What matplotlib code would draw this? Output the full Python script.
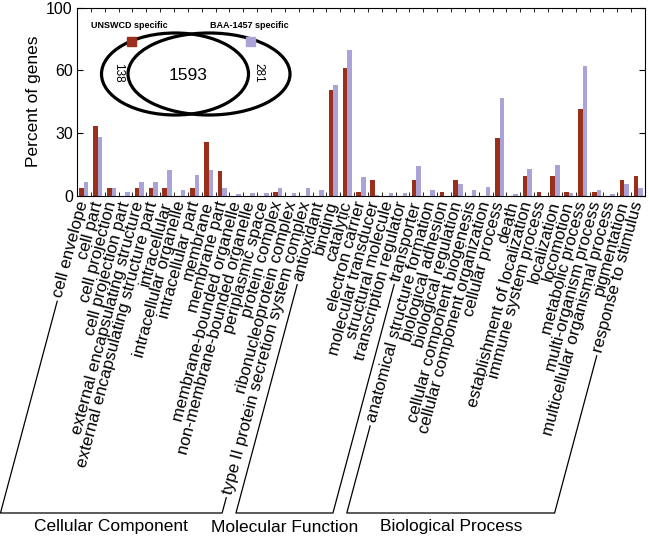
#GO term distribution of strain specific genes
#two bar series (UNSWCD and BAA-1457) with a small venn diagram on top
import numpy as np
import matplotlib
matplotlib.use('Agg')
import matplotlib.pyplot as plt
from matplotlib.patches import Ellipse, Rectangle
from matplotlib.lines import Line2D
from matplotlib.transforms import ScaledTranslation

plt.rcParams['font.family'] = ['Liberation Sans', 'DejaVu Sans']

# categories, one list per GO branch
cellular_component = ['cell envelope', 'cell part', 'cell projection', 'cell projection part',
                      'external encapsulating structure', 'external encapsulating structure part',
                      'intracellular', 'intracellular organelle', 'intracellular part', 'membrane',
                      'membrane part', 'membrane-bounded organelle', 'non-membrane-bounded organelle',
                      'periplasmic space', 'protein complex', 'ribonucleoprotein complex',
                      'type II protein secretion system complex']
molecular_function = ['antioxidant', 'binding', 'catalytic', 'electron carrier',
                      'molecular transducer', 'structural molecule', 'transcription regulator',
                      'transporter']
biological_process = ['anatomical structure formation', 'biological adhesion',
                      'biological regulation', 'cellular component biogenesis',
                      'cellular component organization', 'cellular process', 'death',
                      'establishment of localization', 'immune system process', 'localization',
                      'locomotion', 'metabolic process', 'multi-organism process',
                      'multicellular organismal process', 'pigmentation', 'response to stimulus']
group_names = ['Cellular Component', 'Molecular Function', 'Biological Process']

# percent of genes
unswcd = [3.6, 33.3, 3.6, 0, 3.6, 3.6, 3.6, 0, 3.6, 25.4, 11.6, 0, 0, 0, 1.5, 0, 0,
          0, 50.7, 60.9, 1.5, 7.2, 0, 0, 7.2,
          0, 1.5, 7.2, 0, 0, 27.5, 0, 9.4, 1.5, 9.4, 1.5, 41.3, 1.5, 0, 7.2, 9.4]
baa1457 = [6.3, 28.1, 3.6, 1.8, 6.3, 6.3, 12.1, 2.5, 10.0, 12.1, 3.6, 0.7, 1.4, 1.1, 3.6, 1.1, 3.6,
           2.5, 52.7, 69.8, 8.9, 0.4, 1.4, 1.4, 13.9,
           2.5, 0, 5.3, 2.5, 4.3, 46.6, 0.7, 12.8, 0, 14.6, 1.4, 61.9, 2.5, 0.7, 5.3, 3.6]

# venn numbers
only_unswcd = 138
shared = 1593
only_baa = 281

yticks = [0, 30, 60, 90]
ytick_labels = ['0', '30', '60', '100']

red = '#9A2F1C'
purple = '#A9A3D7'

labels = cellular_component + molecular_function + biological_process
x = np.arange(len(labels))

fig = plt.figure(figsize=(6.49, 5.41), dpi=100)
ax = fig.add_axes([77/649, 1-195.5/541, 568/649, 188/541])

w = 0.33
ax.bar(x - w/2, unswcd, w, color=red)
ax.bar(x + w/2, baa1457, w, color=purple)

ax.set_xlim(-0.5, len(labels) - 0.5)
ax.set_ylim(0, 90)
ax.set_yticks(yticks)
ax.set_yticklabels(ytick_labels, fontsize=11.5)
ax.set_ylabel('Percent of genes', fontsize=12.5, labelpad=4)
ax.set_xticks([])
ax.set_xticks(np.arange(-0.5, len(labels)), minor=True)
ax.tick_params(axis='x', which='minor', direction='in', top=True, bottom=True, length=3)
ax.tick_params(axis='y', direction='in', left=True, right=True, length=4, pad=3)

# rotated category labels
angle = 75
offset = ScaledTranslation(0, -6/100, fig.dpi_scale_trans)
texts = []
for i, name in enumerate(labels):
    t = ax.text(i, 0, name, rotation=angle, rotation_mode='anchor', ha='right', va='center',
                fontsize=12.2, transform=ax.get_xaxis_transform() + offset)
    texts.append(t)

# group brackets drawn along the end labels
fig.canvas.draw()
renderer = fig.canvas.get_renderer()
inv = fig.transFigure.inverted()
d = np.array([np.cos(np.radians(angle)), np.sin(np.radians(angle))])
y_bottom = 541 - 513
gap = 4


def lead(t):
    anchor = t.get_transform().transform(t.get_position())
    L, _, _ = renderer.get_text_width_height_descent(t.get_text(), t.get_fontproperties(), ismath=False)
    start = anchor - (L + gap) * d
    end = np.array([start[0] - (start[1] - y_bottom) / np.tan(np.radians(angle)), y_bottom])
    return start, end


first = 0
for name, grp in zip(group_names, [cellular_component, molecular_function, biological_process]):
    last = first + len(grp) - 1
    s1, e1 = lead(texts[first])
    s2, e2 = lead(texts[last])
    pts = inv.transform(np.array([s1, e1, e2, s2]))
    fig.add_artist(Line2D(pts[:, 0], pts[:, 1], color='black', lw=0.9))
    mid = inv.transform([((e1[0] + e2[0]) / 2, 541 - 527)])[0]
    fig.text(mid[0], mid[1], name, ha='center', va='center', fontsize=12.5)
    first = last + 1

# venn diagram on top, in pixel units
ov = fig.add_axes([0, 0, 1, 1], zorder=5)
ov.set_xlim(0, 649)
ov.set_ylim(541, 0)
ov.axis('off')
ov.patch.set_alpha(0)
ov.add_patch(Ellipse((175, 74), 147, 82, fill=False, lw=2.3, color='black'))
ov.add_patch(Ellipse((209, 74), 162, 82, fill=False, lw=2.3, color='black'))
ov.add_patch(Rectangle((127, 37), 9, 9, color=red, zorder=6))
ov.add_patch(Rectangle((246, 37), 9, 9, color=purple, zorder=6))
ov.text(129, 25, 'UNSWCD specific', ha='center', va='center', fontsize=6.5, fontweight='bold')
ov.text(249, 25, 'BAA-1457 specific', ha='center', va='center', fontsize=6.5, fontweight='bold')
ov.text(188, 75, str(shared), ha='center', va='center', fontsize=12.5)
ov.text(118, 73, str(only_unswcd), ha='center', va='center', fontsize=8.5, rotation=-90)
ov.text(258, 73, str(only_baa), ha='center', va='center', fontsize=8.5, rotation=-90)

fig.savefig('out.png', dpi=100)
